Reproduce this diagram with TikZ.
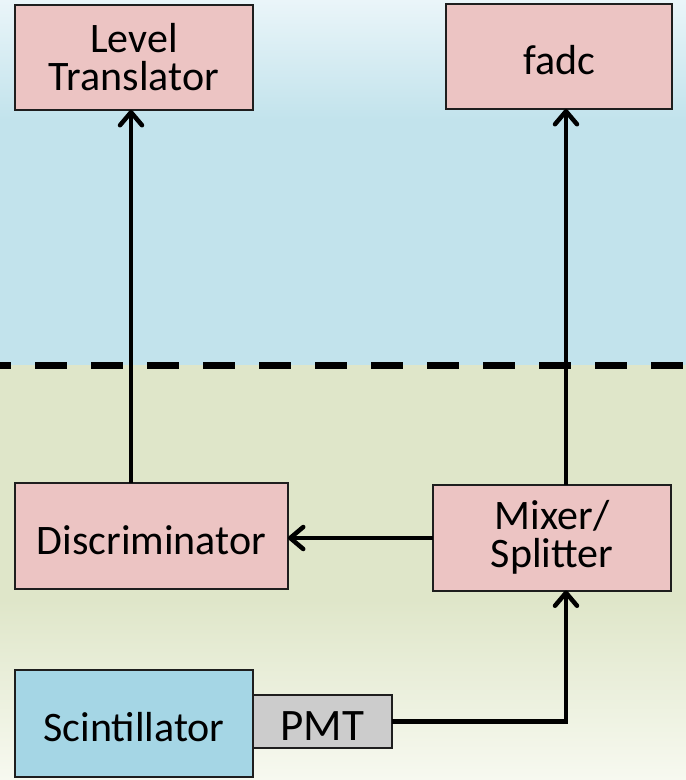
\documentclass[tikz,border=0pt]{standalone}
\usepackage{fontspec}
\setmainfont{Carlito}
\usetikzlibrary{arrows.meta}
\definecolor{boxpink}{HTML}{ECC4C3}
\definecolor{scintblue}{HTML}{A5D6E5}
\definecolor{pmtgray}{HTML}{CCCCCC}
\definecolor{skytop}{HTML}{EAF5F9}
\definecolor{skymid}{HTML}{C2E3EC}
\definecolor{grassmid}{HTML}{DFE6C9}
\definecolor{grassbot}{HTML}{F7F9F0}
\definecolor{edge}{HTML}{1E1E1E}
\begin{document}
\begin{tikzpicture}[x=1pt,y=-1pt,
  blk/.style={draw=edge, line width=2pt, inner sep=0pt, outer sep=0pt, align=center,
    font=\fontsize{42}{38}\selectfont, text=black},
  oneline/.style={text height=36pt, text depth=0pt},
  pinkbox/.style={blk, fill=boxpink},
  arr/.style={line width=4.5pt, draw=black, -{Straight Barb[length=13pt,width=22pt,round]}},
  divider/.style={line width=7pt, draw=black, dash pattern=on 32pt off 24pt, dash phase=20.6pt}
]
\useasboundingbox (0,0) rectangle (686,780);
% background
\shade[top color=skytop, bottom color=skymid] (0,0) rectangle (686,120);
\fill[skymid] (0,119.5) rectangle (686,365);
\fill[grassmid] (0,365) rectangle (686,600);
\shade[top color=grassmid, bottom color=grassbot] (0,599.5) rectangle (686,780);

% divider
\coordinate (dl) at (0,365);
\coordinate (dr) at (686,365);
\draw[divider] (dl) -- (dr);

% boxes
\node[pinkbox, minimum width=238pt, minimum height=105pt] (lt) at (134,57.5) {Level\\Translator};
\node[pinkbox, oneline, minimum width=226pt, minimum height=105pt] (fadc) at (559,56.5) {fadc};
\node[pinkbox, oneline, minimum width=273pt, minimum height=106pt] (disc) at (151.5,536) {Discriminator};
\node[pinkbox, minimum width=238pt, minimum height=106pt] (mix) at (552,537.5) {Mixer/\\Splitter};
\node[blk, oneline, fill=scintblue, minimum width=238pt, minimum height=107pt] (sci) at (134,723.5) {Scintillator};
\node[blk, fill=pmtgray, minimum width=139pt, minimum height=53pt, anchor=west,
  font=\fontsize{45}{40}\selectfont, text height=38pt, text depth=0pt] (pmt) at (sci.east |- 0,721.5) {PMT};

% connectors
\draw[arr] ([xshift=-3pt]lt.south |- disc.north) -- ([xshift=-3pt]lt.south);
\draw[arr] ([xshift=7pt]fadc.south |- mix.north) -- ([xshift=7pt]fadc.south);
\draw[arr] (mix.west |- 0,538) -- (disc.east |- 0,538);
\draw[arr] (pmt.east) -| ([xshift=14pt]mix.south);
\end{tikzpicture}
\end{document}
